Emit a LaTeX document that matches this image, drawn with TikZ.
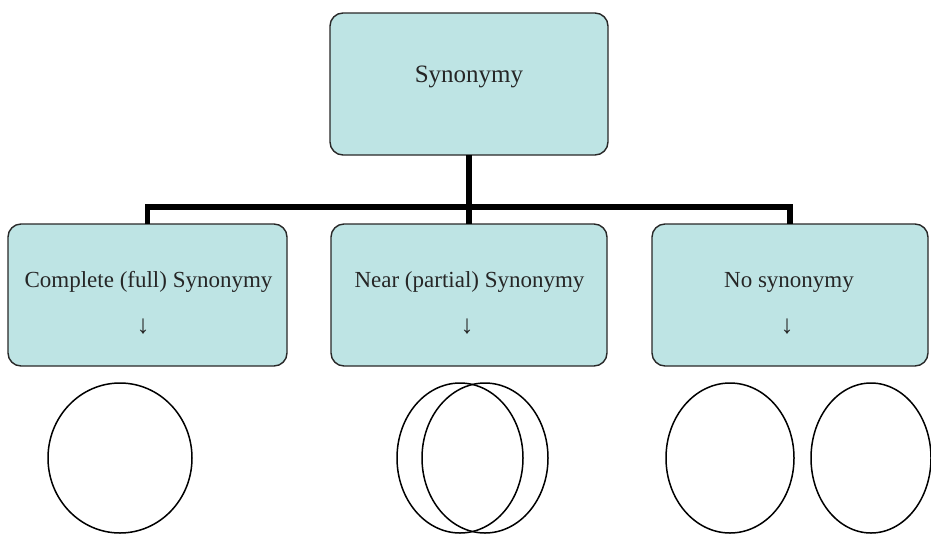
\documentclass[tikz,border=0pt]{standalone}
\usepackage{fontspec}
\setmainfont{Liberation Serif}
\definecolor{boxfill}{RGB}{190,228,228}
\definecolor{boxline}{RGB}{40,40,40}
\begin{document}
\begin{tikzpicture}[x=1pt,y=-1pt,
  box/.style={draw=boxline, fill=boxfill, line width=1.4pt, rounded corners=13pt},
  lab/.style={inner sep=0pt, anchor=base, font=\fontsize{23}{27}\selectfont, text=black!85},
  conn/.style={line width=5.5pt, line join=miter, line cap=butt},
  ring/.style={draw=black, line width=1.5pt}]
\useasboundingbox (0,0) rectangle (931,536);
% boxes
\draw[box] (330,13) rectangle (608,155);
\coordinate (topS) at (469,155);
\draw[box] (8,224) rectangle (287,366);
\draw[box] (331,224) rectangle (607,366);
\draw[box] (652,224) rectangle (928,366);
\coordinate (b1N) at (147.5,224);
\coordinate (b2N) at (469,224);
\coordinate (b3N) at (790,224);
\coordinate (bus) at (469,207);
% connectors
\draw[conn] (topS) -- (topS |- bus);
\draw[conn] (b1N) -- (b1N |- bus) -- (b3N |- bus) -- (b3N);
\draw[conn] (b2N |- bus) -- (b2N);
% texts
\node[lab, font=\fontsize{25}{29}\selectfont] (t0) at (469,82) {Synonymy};
\node[lab] (t1) at (148.5,287) {Complete (full) Synonymy};
\node[lab, font=\fontsize{26}{29}\selectfont] (a1) at (143,333) {↓};
\node[lab] (t2) at (469.5,287) {Near (partial) Synonymy};
\node[lab, font=\fontsize{26}{29}\selectfont] (a2) at (467,333) {↓};
\node[lab] (t3) at (789,287) {No synonymy};
\node[lab, font=\fontsize{26}{29}\selectfont] (a3) at (787,333) {↓};
% circles
\draw[ring] (120,458) ellipse [x radius=72, y radius=75];
\draw[ring] (460,458) ellipse [x radius=63, y radius=75];
\draw[ring] (485,458) ellipse [x radius=63, y radius=75];
\draw[ring] (730,458) ellipse [x radius=64, y radius=75];
\draw[ring] (871,458) ellipse [x radius=60, y radius=75];
\end{tikzpicture}
\end{document}
